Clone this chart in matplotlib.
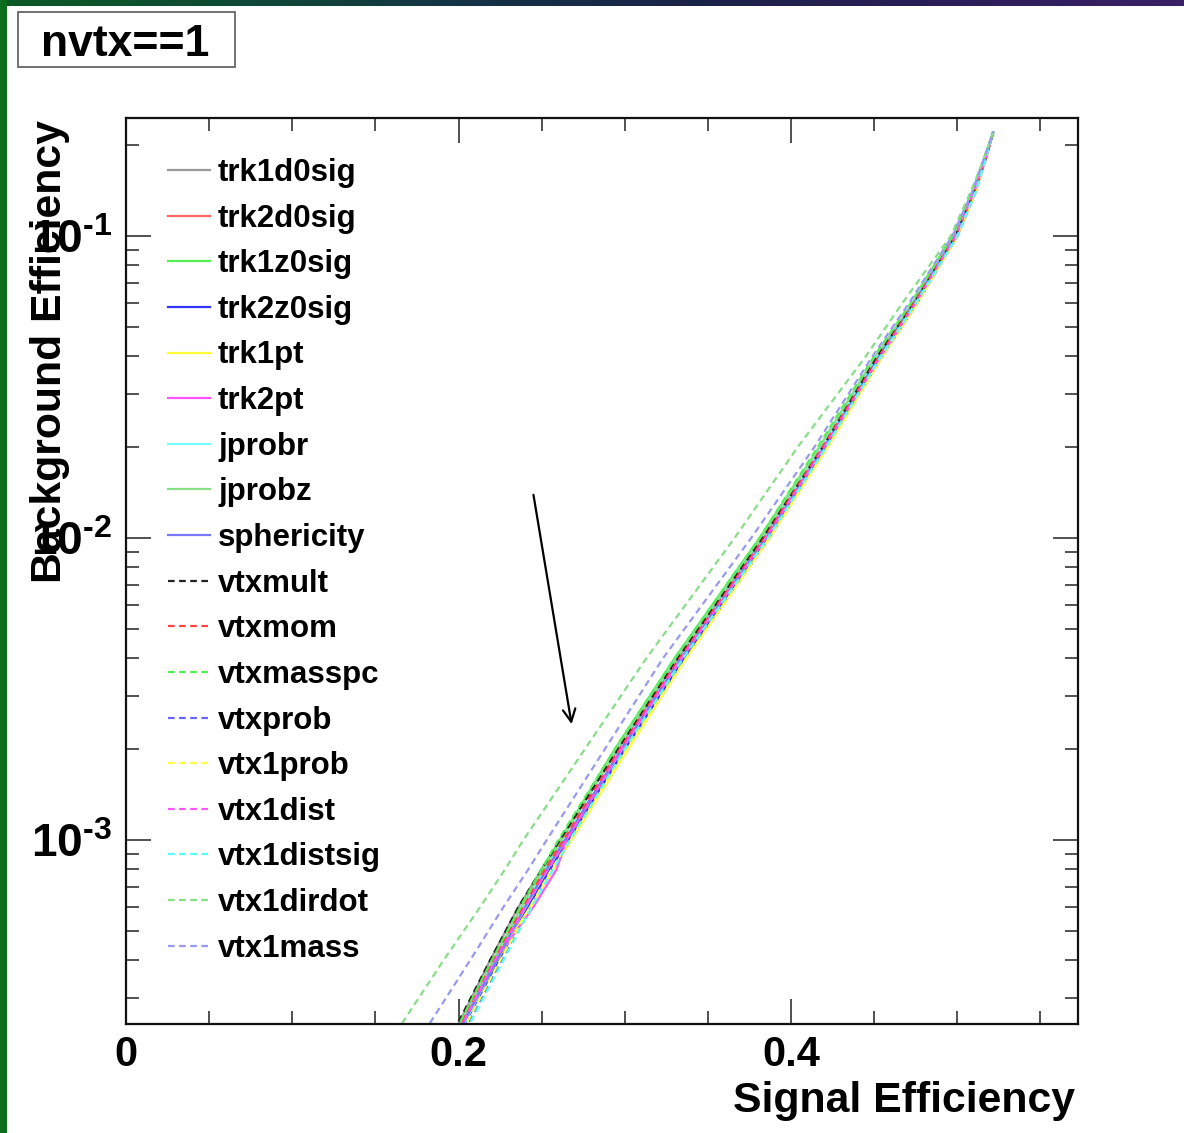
"""ROC curves (background vs signal efficiency) per discriminating variable, nvtx==1."""
import matplotlib
matplotlib.use("Agg")
import matplotlib.pyplot as plt
import numpy as np
from matplotlib.colors import LinearSegmentedColormap
from matplotlib.patches import Rectangle
from matplotlib.ticker import FixedLocator, LogLocator, NullFormatter

plt.rcParams["font.family"] = ["Liberation Sans", "DejaVu Sans"]
plt.rcParams["font.weight"] = "bold"
plt.rcParams["mathtext.fontset"] = "custom"
plt.rcParams["mathtext.rm"] = "Liberation Sans:bold"
plt.rcParams["mathtext.bf"] = "Liberation Sans:bold"
plt.rcParams["mathtext.default"] = "bf"

# background efficiency levels at which each curve's signal efficiency is read
BKG_EFF = [2e-4, 4e-4, 6e-4, 8e-4, 1e-3, 2e-3, 4e-3, 1e-2, 2e-2, 4e-2, 6e-2, 0.1, 0.14, 0.18, 0.22]

NAMES = ["trk1d0sig", "trk2d0sig", "trk1z0sig", "trk2z0sig", "trk1pt", "trk2pt",
         "jprobr", "jprobz", "sphericity", "vtxmult", "vtxmom", "vtxmasspc",
         "vtxprob", "vtx1prob", "vtx1dist", "vtx1distsig", "vtx1dirdot", "vtx1mass"]

COLORS = ["#999999", "#ff6666", "#55ee55", "#3333ff", "#ffff33", "#ff55ff",
          "#77ffff", "#88dd88", "#7777ff", "#222222", "#ff4444", "#55ee55",
          "#6666ff", "#ffff44", "#ff55ff", "#55ffff", "#88dd88", "#9999ee"]

DASHED = [False] * 9 + [True] * 9

SIG_EFF = {
    "trk1d0sig":   [0.192, 0.219, 0.236, 0.250, 0.261, 0.296, 0.332, 0.383, 0.418, 0.452, 0.474, 0.498, 0.510, 0.517, 0.5215],
    "trk2d0sig":   [0.192, 0.222, 0.240, 0.253, 0.264, 0.298, 0.334, 0.385, 0.420, 0.453, 0.474, 0.499, 0.510, 0.517, 0.5215],
    "trk1z0sig":   [0.193, 0.221, 0.238, 0.250, 0.261, 0.294, 0.330, 0.381, 0.417, 0.451, 0.473, 0.498, 0.509, 0.516, 0.5215],
    "trk2z0sig":   [0.195, 0.224, 0.242, 0.255, 0.266, 0.300, 0.336, 0.386, 0.421, 0.454, 0.475, 0.500, 0.511, 0.517, 0.5215],
    "trk1pt":      [0.194, 0.223, 0.243, 0.257, 0.268, 0.302, 0.337, 0.387, 0.422, 0.455, 0.476, 0.500, 0.511, 0.517, 0.5215],
    "trk2pt":      [0.193, 0.222, 0.245, 0.259, 0.265, 0.298, 0.334, 0.385, 0.420, 0.453, 0.474, 0.499, 0.510, 0.517, 0.5215],
    "jprobr":      [0.195, 0.223, 0.240, 0.252, 0.262, 0.295, 0.331, 0.382, 0.418, 0.452, 0.473, 0.498, 0.509, 0.516, 0.5215],
    "jprobz":      [0.192, 0.221, 0.238, 0.251, 0.262, 0.295, 0.331, 0.382, 0.417, 0.451, 0.473, 0.498, 0.509, 0.516, 0.5215],
    "sphericity":  [0.194, 0.223, 0.240, 0.253, 0.264, 0.298, 0.334, 0.385, 0.420, 0.453, 0.474, 0.499, 0.510, 0.517, 0.5215],
    "vtxmult":     [0.191, 0.219, 0.236, 0.250, 0.261, 0.296, 0.332, 0.383, 0.419, 0.452, 0.474, 0.499, 0.510, 0.517, 0.5215],
    "vtxmom":      [0.193, 0.221, 0.239, 0.252, 0.263, 0.297, 0.333, 0.384, 0.419, 0.453, 0.474, 0.499, 0.510, 0.517, 0.5215],
    "vtxmasspc":   [0.192, 0.220, 0.237, 0.250, 0.260, 0.294, 0.330, 0.381, 0.416, 0.450, 0.472, 0.497, 0.509, 0.516, 0.5215],
    "vtxprob":     [0.197, 0.226, 0.243, 0.256, 0.267, 0.300, 0.336, 0.387, 0.421, 0.455, 0.476, 0.500, 0.511, 0.517, 0.5215],
    "vtx1prob":    [0.196, 0.225, 0.243, 0.256, 0.267, 0.301, 0.337, 0.387, 0.422, 0.455, 0.476, 0.500, 0.511, 0.517, 0.5215],
    "vtx1dist":    [0.194, 0.222, 0.240, 0.254, 0.265, 0.298, 0.334, 0.385, 0.420, 0.454, 0.475, 0.499, 0.510, 0.517, 0.5215],
    "vtx1distsig": [0.198, 0.227, 0.244, 0.257, 0.267, 0.300, 0.335, 0.386, 0.421, 0.454, 0.475, 0.500, 0.511, 0.517, 0.5215],
    "vtx1dirdot":  [0.155, 0.191, 0.213, 0.228, 0.239, 0.276, 0.313, 0.366, 0.404, 0.445, 0.467, 0.496, 0.508, 0.516, 0.5215],
    "vtx1mass":    [0.172, 0.207, 0.227, 0.242, 0.253, 0.288, 0.323, 0.376, 0.414, 0.449, 0.471, 0.497, 0.509, 0.516, 0.5215],
}

# arrow marking the vertex-based curves: (sig, bkg) of tail and head
ARROW_TAIL = (0.2448, 1.42e-2)
ARROW_HEAD = (0.2683, 2.37e-3)

YTICKS = [1e-3, 1e-2, 1e-1]
YTICK_LABELS = [r"$10^{\text{-}3}$", r"$10^{\text{-}2}$", r"$10^{\text{-}1}$"]


def main():
    fig = plt.figure(figsize=(11.84, 11.33), dpi=100)
    fig.patch.set_facecolor("white")

    # slide frame: gradient strip along the top, green strip on the left
    top = fig.add_axes([0, 1 - 6 / 1133, 1, 6 / 1133])
    cmap = LinearSegmentedColormap.from_list(
        "frame", ["#0b5a25", "#0f4a35", "#143246", "#1b2248", "#2a1e58", "#3a2066"])
    top.imshow(np.linspace(0, 1, 256)[None, :], aspect="auto", cmap=cmap)
    top.axis("off")
    left = fig.add_axes([0, 0, 7 / 1184, 1])
    left.set_facecolor("#0a6e1c")
    left.set_xticks([])
    left.set_yticks([])
    for s in left.spines.values():
        s.set_visible(False)

    ax = fig.add_axes([126 / 1184, 1 - 1024 / 1133, 952 / 1184, 906 / 1133])
    for name, color, dashed in zip(NAMES, COLORS, DASHED):
        kw = dict(dashes=(3, 2)) if dashed else {}
        ax.plot(SIG_EFF[name], BKG_EFF, color=color, lw=1.6, label=name, **kw)

    ax.set_yscale("log")
    ax.set_xlim(0, 0.5726)
    ax.set_ylim(2.46e-4, 0.246)

    ax.xaxis.set_major_locator(FixedLocator([0, 0.2, 0.4]))
    ax.xaxis.set_minor_locator(FixedLocator(np.arange(0.05, 0.58, 0.05)))
    ax.set_xticklabels(["0", "0.2", "0.4"])
    ax.yaxis.set_minor_locator(LogLocator(base=10, subs=np.arange(2, 10)))
    ax.yaxis.set_minor_formatter(NullFormatter())
    ax.set_yticks(YTICKS)
    ax.set_yticklabels(YTICK_LABELS)

    ax.tick_params(which="both", direction="in", top=True, right=True,
                   width=1.1, color="#222222")
    ax.tick_params(axis="x", labelsize=30, pad=8)
    ax.tick_params(axis="y", labelsize=33, pad=10)
    ax.tick_params(which="major", length=18)
    ax.tick_params(which="minor", length=9.5)
    for s in ax.spines.values():
        s.set_linewidth(1.6)
        s.set_color("#111111")

    ax.set_xlabel("Signal Efficiency", fontsize=30.8, fontweight="bold", loc="right")
    ax.xaxis.set_label_coords(0.9968, -0.063)
    ax.set_ylabel("Background Efficiency", fontsize=30.8, fontweight="bold", loc="top")
    ax.yaxis.set_label_coords(-0.059, 0.998)

    ax.legend(loc="upper left", bbox_to_anchor=(42 / 952, 1 - 40 / 906),
              frameon=False, fontsize=22.5, handlelength=1.35, handletextpad=0.25,
              labelspacing=0.5, borderpad=0, borderaxespad=0)

    ax.annotate("", xy=ARROW_HEAD, xytext=ARROW_TAIL,
                arrowprops=dict(arrowstyle="->,head_length=0.9,head_width=0.45",
                                lw=1.6, color="black"))

    # selection label box
    fig.patches.append(Rectangle((18 / 1184, 1 - 67 / 1133), 217 / 1184, 55 / 1133,
                                 transform=fig.transFigure, facecolor="white",
                                 edgecolor="#666666", lw=1.3))
    fig.text(125 / 1184, 1 - 44 / 1133, "nvtx==1", ha="center", va="center",
             fontsize=32, fontweight="bold")

    fig.savefig("out.png", dpi=100)


if __name__ == "__main__":
    main()
